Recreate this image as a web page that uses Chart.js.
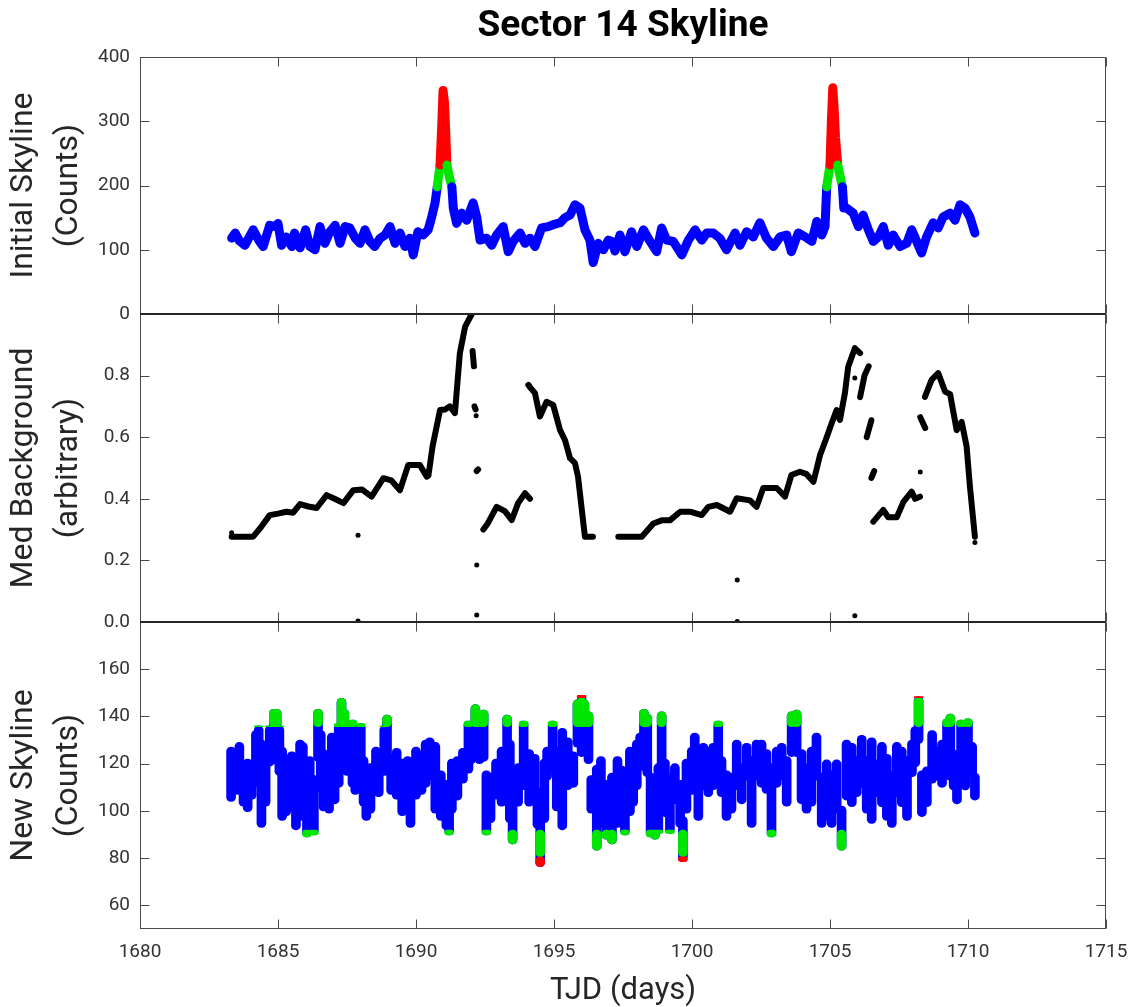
<!DOCTYPE html>
<html>
<head>
<meta charset="utf-8">
<title>Sector 14 Skyline</title>
<script src="https://cdn.jsdelivr.net/npm/chart.js@4.4.1/dist/chart.umd.min.js"></script>
<style>
  body { margin: 0; background: #fff; }
  #wrap { width: 1133px; height: 1007px; }
</style>
</head>
<body>
<div id="wrap"><canvas id="chart" width="1133" height="1007"></canvas></div>
<script>
// tick positions
const xTicks = [1680, 1685, 1690, 1695, 1700, 1705, 1710, 1715];
const yTicks1 = [0, 100, 200, 300, 400];
const yTicks2 = [0, 0.2, 0.4, 0.6, 0.8];
const yTicks3 = [60, 80, 100, 120, 140, 160];

// top panel: initial skyline (counts)
const t1 = [1683.32, 1683.45, 1683.6, 1683.8, 1684.1, 1684.3, 1684.46, 1684.7, 1684.9, 1685.0,
  1685.13, 1685.3, 1685.5, 1685.6, 1685.8, 1686.0, 1686.16, 1686.34, 1686.52, 1686.7,
  1686.88, 1687.07, 1687.25, 1687.43, 1687.6, 1687.8, 1687.97, 1688.15, 1688.33, 1688.5,
  1688.7, 1688.88, 1689.06, 1689.24, 1689.42, 1689.6, 1689.78, 1689.9, 1690.07, 1690.26,
  1690.44, 1690.57, 1690.69, 1690.77, 1690.87, 1690.93, 1690.98, 1691.03, 1691.08, 1691.12,
  1691.2, 1691.3, 1691.35, 1691.47, 1691.65, 1691.84, 1692.0, 1692.07, 1692.2, 1692.32,
  1692.56, 1692.74, 1692.92, 1693.16, 1693.34, 1693.52, 1693.77, 1693.95, 1694.13, 1694.31,
  1694.55, 1694.79, 1694.97, 1695.22, 1695.4, 1695.58, 1695.76, 1695.94, 1696.12, 1696.3,
  1696.42, 1696.6, 1696.79, 1696.97, 1697.1, 1697.21, 1697.39, 1697.57, 1697.81, 1698.0,
  1698.24, 1698.48, 1698.72, 1698.9, 1699.08, 1699.32, 1699.63, 1699.87, 1700.11, 1700.35,
  1700.53, 1700.77, 1701.01, 1701.25, 1701.56, 1701.74, 1701.98, 1702.22, 1702.46, 1702.7,
  1702.95, 1703.19, 1703.43, 1703.6, 1703.85, 1704.1, 1704.34, 1704.52, 1704.7, 1704.82,
  1704.88, 1705.0, 1705.05, 1705.1, 1705.15, 1705.2, 1705.28, 1705.36, 1705.45, 1705.5,
  1705.6, 1705.84, 1706.03, 1706.2, 1706.39, 1706.57, 1706.75, 1706.93, 1707.11, 1707.29,
  1707.54, 1707.78, 1707.96, 1708.14, 1708.32, 1708.5, 1708.74, 1708.92, 1709.1, 1709.35,
  1709.53, 1709.71, 1709.89, 1710.07, 1710.25];
const sky1 = [118, 126, 114, 107, 131, 115, 105, 138, 136, 141,
  107, 120, 105, 126, 103, 131, 105, 100, 136, 110,
  128, 138, 110, 136, 134, 118, 110, 131, 113, 105,
  118, 123, 136, 110, 126, 105, 118, 92, 128, 123,
  131, 151, 173, 198, 232, 290, 348, 330, 280, 232,
  215, 198, 165, 141, 157, 146, 165, 173, 151, 115,
  118, 107, 123, 136, 97, 113, 126, 110, 118, 105,
  134, 136, 139, 142, 150, 154, 170, 165, 131, 115,
  80, 110, 100, 115, 113, 98, 123, 97, 128, 105,
  131, 113, 97, 134, 115, 113, 92, 115, 131, 115,
  126, 126, 118, 100, 126, 107, 128, 120, 142, 118,
  105, 120, 123, 97, 126, 120, 113, 144, 123, 136,
  198, 232, 300, 352, 320, 275, 232, 215, 198, 165,
  165, 157, 136, 154, 131, 113, 120, 136, 107, 123,
  105, 110, 131, 113, 95, 120, 142, 134, 151, 157,
  146, 170, 165, 151, 126];

// middle panel: median background, null = gap in the trace
const t2 = [1683.32, 1684.1, 1684.4, 1684.7, 1685.0, 1685.3, 1685.55, 1685.8, 1686.1, 1686.4,
  1686.76, 1687.05, 1687.37, 1687.73, 1688.05, 1688.39, 1688.82, 1689.1, 1689.42, 1689.72,
  1690.14, 1690.39, 1690.45, 1690.6, 1690.87, 1691.05, 1691.23, 1691.41, 1691.59, 1691.78, 1692.02,
  1692.02, 1692.05, 1692.1,
  1692.1, 1692.12, 1692.16,
  1692.16, 1692.2, 1692.25,
  1692.25, 1692.44, 1692.6, 1692.92, 1693.22, 1693.47, 1693.7, 1693.95, 1694.13,
  1694.13, 1694.07, 1694.15, 1694.31, 1694.49, 1694.73, 1694.97, 1695.22, 1695.4, 1695.58,
  1695.76, 1695.87, 1696.12, 1696.41,
  1696.41, 1697.33, 1698.18, 1698.6, 1698.9, 1699.2, 1699.57, 1699.93, 1700.35, 1700.59,
  1700.9, 1701.38, 1701.62, 1702.1, 1702.34, 1702.58, 1703.07, 1703.37, 1703.6, 1703.91,
  1704.15, 1704.4, 1704.64, 1704.88, 1705.06, 1705.24, 1705.36, 1705.54, 1705.66, 1705.9, 1706.09,
  1706.09, 1706.09, 1706.25, 1706.4,
  1706.4, 1706.33, 1706.5,
  1706.5, 1706.5, 1706.6,
  1706.6, 1706.57, 1706.93, 1707.11, 1707.42, 1707.66, 1707.96, 1708.08, 1708.26,
  1708.26, 1708.27, 1708.45,
  1708.45, 1708.44, 1708.68, 1708.92, 1709.17, 1709.35, 1709.59, 1709.77, 1709.95, 1710.07, 1710.25];
const bg2 = [0.277, 0.277, 0.31, 0.347, 0.352, 0.358, 0.355, 0.383, 0.375, 0.37,
  0.412, 0.40, 0.386, 0.428, 0.43, 0.407, 0.467, 0.46, 0.428, 0.51,
  0.51, 0.472, 0.475, 0.57, 0.688, 0.69, 0.70, 0.678, 0.873, 0.959, 1.0,
  null, 0.88, 0.83,
  null, 0.70, 0.69,
  null, 0.49, 0.495,
  null, 0.30, 0.32, 0.374, 0.36, 0.331, 0.386, 0.418, 0.40,
  null, 0.77, 0.76, 0.743, 0.667, 0.715, 0.705, 0.623, 0.59, 0.532,
  0.516, 0.472, 0.277, 0.277,
  null, 0.277, 0.277, 0.32, 0.33, 0.33, 0.358, 0.358, 0.347, 0.374,
  0.38, 0.358, 0.402, 0.395, 0.374, 0.435, 0.435, 0.407, 0.477, 0.488,
  0.48, 0.455, 0.542, 0.60, 0.645, 0.688, 0.656, 0.743, 0.829, 0.889, 0.873,
  null, 0.73, 0.80, 0.83,
  null, 0.60, 0.655,
  null, 0.468, 0.49,
  null, 0.326, 0.364, 0.34, 0.34, 0.39, 0.423, 0.40, 0.407,
  null, 0.665, 0.63,
  null, 0.731, 0.786, 0.808, 0.748, 0.74, 0.623, 0.65, 0.57, 0.44, 0.277];
// isolated background points
const dotT2 = [1683.32, 1687.9, 1687.9, 1692.18, 1692.2, 1692.2, 1701.64, 1701.64, 1705.9, 1705.9, 1708.27, 1710.25];
const dotBg2 = [0.29, 0.282, 0.003, 0.67, 0.185, 0.023, 0.136, 0.002, 0.792, 0.02, 0.487, 0.258];

// bottom panel: new skyline, spread of points (high / low) at each time
const t3 = [1683.3, 1683.45, 1683.6, 1683.75, 1683.9, 1684.05, 1684.2, 1684.3, 1684.4, 1684.55,
  1684.7, 1684.85, 1684.95, 1685.05, 1685.15, 1685.3, 1685.4, 1685.5, 1685.65, 1685.8,
  1685.9, 1686.05, 1686.15, 1686.3, 1686.45, 1686.55, 1686.65, 1686.85, 1686.95, 1687.05,
  1687.2, 1687.3, 1687.4, 1687.5, 1687.7, 1687.8, 1688.0, 1688.1, 1688.2, 1688.35,
  1688.55, 1688.65, 1688.85, 1688.95, 1689.1, 1689.3, 1689.5, 1689.7, 1689.8, 1690.0,
  1690.2, 1690.35, 1690.5, 1690.7, 1690.9, 1691.1, 1691.2, 1691.3, 1691.5, 1691.7,
  1691.9, 1692.0, 1692.15, 1692.3, 1692.45, 1692.55, 1692.7, 1692.9, 1693.1, 1693.3,
  1693.4, 1693.5, 1693.7, 1693.9, 1694.1, 1694.3, 1694.4, 1694.5, 1694.65, 1694.75,
  1694.95, 1695.1, 1695.3, 1695.5, 1695.7, 1695.85, 1696.0, 1696.1, 1696.25, 1696.35,
  1696.55, 1696.7, 1696.9, 1697.1, 1697.3, 1697.45, 1697.57, 1697.75, 1697.87, 1698.0,
  1698.12, 1698.26, 1698.38, 1698.5, 1698.66, 1698.78, 1698.9, 1699.02, 1699.2, 1699.38,
  1699.57, 1699.67, 1699.8, 1699.99, 1700.1, 1700.23, 1700.41, 1700.59, 1700.77, 1700.95,
  1701.07, 1701.25, 1701.43, 1701.62, 1701.8, 1701.98, 1702.16, 1702.34, 1702.52, 1702.7,
  1702.88, 1703.07, 1703.25, 1703.43, 1703.61, 1703.79, 1703.97, 1704.15, 1704.33, 1704.51,
  1704.7, 1704.88, 1705.06, 1705.24, 1705.42, 1705.6, 1705.79, 1705.97, 1706.15, 1706.33,
  1706.51, 1706.69, 1706.88, 1707.06, 1707.24, 1707.42, 1707.6, 1707.79, 1707.97, 1708.09,
  1708.21, 1708.33, 1708.51, 1708.7, 1708.88, 1709.06, 1709.24, 1709.36, 1709.48, 1709.6,
  1709.75, 1709.9, 1710.0, 1710.15, 1710.25];
const hi3 = [127, 126, 129, 119, 122, 120, 134, 136, 130, 123,
  136, 143, 143, 136, 127, 116, 122, 125, 115, 130,
  129, 119, 123, 115, 143, 134, 126, 123, 133, 127,
  137, 147.7, 143, 136, 138.5, 130, 137, 123, 116, 120,
  127, 122, 136, 140.6, 124, 126.5, 122, 123, 116, 127,
  125, 130, 131, 129, 117, 113, 109, 122, 123, 126.5,
  138, 134, 145, 136, 142.7, 117, 116, 122, 127, 140.6,
  130, 113, 120, 138, 126, 124, 110, 109, 122, 127,
  138, 127, 135, 131, 125, 147, 149, 147, 142, 115,
  119.4, 123, 113, 116, 123, 119, 113, 127, 119, 130,
  133, 143, 141, 116, 112, 120, 142, 122, 116, 120,
  113, 97.6, 122, 127, 133, 124, 128.6, 127, 128.6, 138,
  123, 117, 116, 130, 120, 128.6, 123, 130, 130, 126,
  120, 127, 128.6, 123, 142, 142.7, 126, 120, 127, 133,
  116, 121.6, 117, 121.6, 102, 130, 128.6, 123, 132, 123,
  131, 121.6, 129, 124, 117, 129, 127, 123, 130, 135.7,
  148.4, 117, 118.7, 134, 127, 130, 139, 141, 125.8, 121.6,
  138.5, 124, 139, 129, 116];
const lo3 = [104, 107, 107, 102, 99.7, 105, 113, 110, 93, 102,
  119, 120, 121, 115, 96, 98, 103, 100, 92, 96,
  100, 89, 93, 89.8, 121, 108, 100, 99, 109, 103,
  110, 123, 116, 115, 110, 107, 113, 102, 96, 99,
  112, 106, 115, 120, 107, 105, 98, 99, 93, 105,
  107, 110, 113, 99, 96, 92, 89.8, 99, 104.6, 111.7,
  116, 120, 123, 120, 121, 89.8, 95, 105, 102, 110,
  95, 86, 102, 109, 102, 109, 92.6, 76.4, 95, 113,
  117, 100, 92, 109, 110, 127, 123, 126, 120, 99,
  83.4, 93, 88, 86, 93, 102, 89.8, 98, 102, 109,
  117, 127, 114.5, 89, 88, 90.5, 113, 97.6, 90.5, 103,
  93, 78.5, 99, 107, 112, 96, 109, 106, 109, 121.6,
  106, 96, 99, 109, 103, 113, 93, 113, 110, 107.4,
  89, 110, 113, 102, 123, 123, 103, 99, 102, 113,
  93, 96, 93, 99, 83.4, 104.6, 101.8, 106, 110, 99,
  94.7, 106, 101.8, 96, 93, 106, 101.8, 96, 114.5, 118.7,
  128.6, 97.6, 101.8, 111.7, 113, 110, 118.7, 113, 108.9, 103,
  113, 108.9, 118.7, 114.5, 104.6];

// colour levels
const blue = '#0000ff', green = '#00e600', red = '#ff0000';
const lim1 = { green: 198, red: 232 };               // top panel
const lim3 = { up: 135.7, upRed: 148, dn: 91.9, dnRed: 80.6 }; // bottom panel

function level1(v) {
  if (v >= lim1.red) return red;
  if (v >= lim1.green) return green;
  return blue;
}

// build the floating bars for the bottom panel, split by colour level
function bars3(part) {
  return t3.map((t, i) => {
    const h = hi3[i], l = lo3[i];
    let y = null;
    if (part === 'all') y = [l, h];
    if (part === 'upG' && h > lim3.up) y = [lim3.up, Math.min(h, lim3.upRed)];
    if (part === 'upR' && h > lim3.upRed) y = [lim3.upRed, h];
    if (part === 'dnG' && l < lim3.dn) y = [Math.max(l, lim3.dnRed), lim3.dn];
    if (part === 'dnR' && l < lim3.dnRed) y = [l, lim3.dnRed];
    return { x: t, y: y };
  });
}

// lower order is drawn on top, so the blue base gets the highest
function barSet(part, color, order) {
  return {
    type: 'bar',
    data: bars3(part),
    yAxisID: 'y3',
    backgroundColor: color,
    borderWidth: 0,
    borderRadius: 4.5,
    borderSkipped: false,
    barThickness: 9,
    grouped: false,
    order: order
  };
}

// frame round each panel, with inward ticks on all four sides
const framePlugin = {
  id: 'frames',
  afterDraw(chart) {
    const { ctx, chartArea: a, scales } = chart;
    const xs = scales.x;
    const panels = [['y1', yTicks1], ['y2', yTicks2], ['y3', yTicks3]];
    ctx.save();
    ctx.strokeStyle = '#4a4a4a';
    ctx.lineWidth = 1;
    panels.forEach(([id, ticks]) => {
      const s = scales[id];
      const top = Math.round(s.top) + 0.5;
      const bot = Math.round(s.bottom) - 0.5;
      const left = Math.round(a.left) + 0.5;
      const right = Math.round(a.right) - 0.5;
      ctx.strokeRect(left, top, right - left, bot - top);
      ctx.beginPath();
      xTicks.forEach(v => {
        const px = Math.round(xs.getPixelForValue(v)) + 0.5;
        ctx.moveTo(px, top); ctx.lineTo(px, top + 9);
        ctx.moveTo(px, bot); ctx.lineTo(px, bot - 9);
      });
      ticks.forEach(v => {
        const py = Math.round(s.getPixelForValue(v)) + 0.5;
        ctx.moveTo(left, py); ctx.lineTo(left + 9, py);
        ctx.moveTo(right, py); ctx.lineTo(right - 9, py);
      });
      ctx.stroke();
    });
    // panel joins are drawn darker
    ctx.strokeStyle = '#262626';
    ctx.lineWidth = 2;
    ctx.beginPath();
    ['y1', 'y2'].forEach(id => {
      const y = Math.round(scales[id].bottom);
      ctx.moveTo(a.left, y); ctx.lineTo(a.right, y);
    });
    ctx.stroke();
    ctx.restore();
  }
};

Chart.defaults.font.family = 'Roboto';
Chart.defaults.color = '#333333';

const tickFont = { family: 'Roboto', size: 19 };
const titleFont = { family: 'Roboto', size: 32, lineHeight: 1.4 };

function yScale(weight, stackWeight, min, max, ticks, title, fmt) {
  return {
    type: 'linear',
    position: 'left',
    stack: 'panels',
    stackWeight: stackWeight,
    weight: weight,
    min: min,
    max: max,
    grid: { display: false, drawTicks: false },
    border: { display: false },
    afterBuildTicks: s => { s.ticks = ticks.map(v => ({ value: v })); },
    afterFit: s => { s.width = 140; s.paddingTop = 0; s.paddingBottom = 0; },
    ticks: { font: tickFont, color: '#333333', padding: 10, autoSkip: false, callback: fmt },
    title: { display: true, text: title, font: titleFont, color: '#262626', padding: { top: 2, bottom: 0 } }
  };
}

new Chart(document.getElementById('chart'), {
  type: 'line',
  data: {
    datasets: [
      {
        label: 'Initial Skyline',
        data: t1.map((t, i) => ({ x: t, y: sky1[i] })),
        yAxisID: 'y1',
        borderColor: blue,
        borderWidth: 9,
        borderCapStyle: 'round',
        borderJoinStyle: 'round',
        pointRadius: 0,
        tension: 0,
        segment: {
          borderColor: c => level1(Math.min(c.p0.parsed.y, c.p1.parsed.y))
        },
        order: 0
      },
      {
        label: 'Med Background',
        data: t2.map((t, i) => ({ x: t, y: bg2[i] })),
        yAxisID: 'y2',
        borderColor: '#000000',
        borderWidth: 6,
        borderCapStyle: 'round',
        borderJoinStyle: 'round',
        pointRadius: 0,
        spanGaps: false,
        tension: 0,
        order: 0
      },
      {
        label: 'Med Background points',
        data: dotT2.map((t, i) => ({ x: t, y: dotBg2[i] })),
        yAxisID: 'y2',
        showLine: false,
        pointRadius: 2.5,
        pointBorderWidth: 0,
        pointBackgroundColor: '#000000',
        order: 0
      },
      barSet('all', blue, 3),
      barSet('upG', green, 2),
      barSet('upR', red, 1),
      barSet('dnG', green, 2),
      barSet('dnR', red, 1)
    ]
  },
  options: {
    responsive: false,
    animation: false,
    events: [],
    layout: { padding: { left: 0, right: 27, top: 0, bottom: 0 } },
    plugins: {
      legend: { display: false },
      tooltip: { enabled: false },
      title: {
        display: true,
        fullSize: false,
        text: 'Sector 14 Skyline',
        color: '#000000',
        font: { family: 'Roboto', size: 37, weight: 'bold', lineHeight: 1.2 },
        padding: { top: 5, bottom: 7.6 }
      }
    },
    scales: {
      x: {
        type: 'linear',
        min: 1680,
        max: 1715,
        offset: false,
        grid: { display: false, drawTicks: false },
        border: { display: false },
        afterBuildTicks: s => { s.ticks = xTicks.map(v => ({ value: v })); },
        afterFit: s => { s.height = 78; s.paddingLeft = 0; s.paddingRight = 0; },
        ticks: { font: tickFont, color: '#333333', padding: 12, autoSkip: false, maxRotation: 0,
                 callback: v => String(v) },
        title: {
          display: true,
          text: 'TJD (days)',
          color: '#262626',
          font: { family: 'Roboto', size: 31, lineHeight: 1.0 },
          padding: { top: 0, bottom: 0 }
        }
      },
      y1: yScale(3, 257, 0, 400, yTicks1, ['Initial Skyline', '(Counts)'], v => String(v)),
      y2: yScale(2, 308, 0, 1, yTicks2, ['Med Background', '(arbitrary)'], v => v.toFixed(1)),
      y3: yScale(1, 307, 50, 180, yTicks3, ['New Skyline', '(Counts)'], v => String(v))
    }
  },
  plugins: [framePlugin]
});
</script>
</body>
</html>
